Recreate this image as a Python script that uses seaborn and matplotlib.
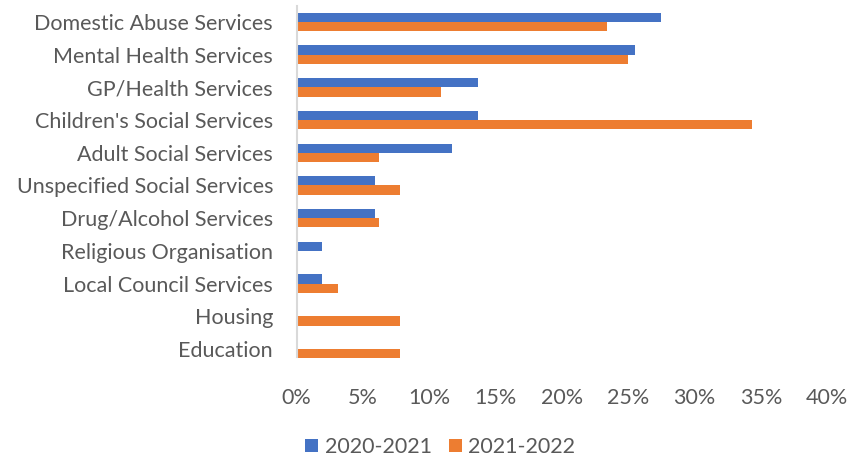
import matplotlib
matplotlib.use("Agg")
import matplotlib.pyplot as plt
import seaborn as sns
import pandas as pd
from matplotlib.patches import Patch

categories = ["Domestic Abuse Services", "Mental Health Services", "GP/Health Services",
              "Children's Social Services", "Adult Social Services", "Unspecified Social Services",
              "Drug/Alcohol Services", "Religious Organisation", "Local Council Services",
              "Housing", "Education"]
series = ["2020-2021", "2021-2022"]
values_2020 = [27.45, 25.5, 13.7, 13.7, 11.7, 5.9, 5.9, 1.9, 1.9, 0.0, 0.0]
values_2021 = [23.4, 25.0, 10.9, 34.3, 6.2, 7.8, 6.2, 0.0, 3.1, 7.8, 7.8]
x_ticks = [0, 5, 10, 15, 20, 25, 30, 35, 40]
colors = ["#4472C4", "#ED7D31"]

df = pd.DataFrame({
    "category": categories * 2,
    "series": [series[0]] * len(categories) + [series[1]] * len(categories),
    "value": values_2020 + values_2021,
})

sns.set_theme(style="white")
plt.rcParams["font.family"] = ["Lato", "DejaVu Sans"]

fig = plt.figure(figsize=(8.6, 4.62), dpi=100)
ax = fig.add_axes([0.345, 0.209, 0.617, 0.779])

sns.barplot(data=df, y="category", x="value", hue="series", order=categories,
            hue_order=series, palette=colors, orient="h", width=0.56,
            ax=ax, legend=False, linewidth=0, saturation=1)

ax.set_xlim(0, 40)
ax.set_ylim(len(categories) - 0.5, -0.5)
ax.set_xticks(x_ticks)
ax.set_xticklabels([f"{t}%" for t in x_ticks])
ax.set_xlabel("")
ax.set_ylabel("")
ax.tick_params(axis="both", length=0, labelsize=15.5, labelcolor="#595959")
ax.tick_params(axis="x", pad=16)
ax.tick_params(axis="y", pad=17)
for s in ["top", "right", "bottom"]:
    ax.spines[s].set_visible(False)
ax.spines["left"].set_color("#D9D9D9")
ax.spines["left"].set_linewidth(1.5)
ax.spines["left"].set_bounds(len(categories) - 0.75, -0.5)
ax.grid(False)

handles = [Patch(facecolor=c, edgecolor="none") for c in colors]
fig.legend(handles, series, loc="center", bbox_to_anchor=(0.512, 0.032), ncol=2,
           frameon=False, fontsize=15.5, handlelength=0.6, handleheight=0.6,
           handletextpad=0.3, columnspacing=0.8, labelcolor="#595959")

fig.savefig("out.png", dpi=100)
